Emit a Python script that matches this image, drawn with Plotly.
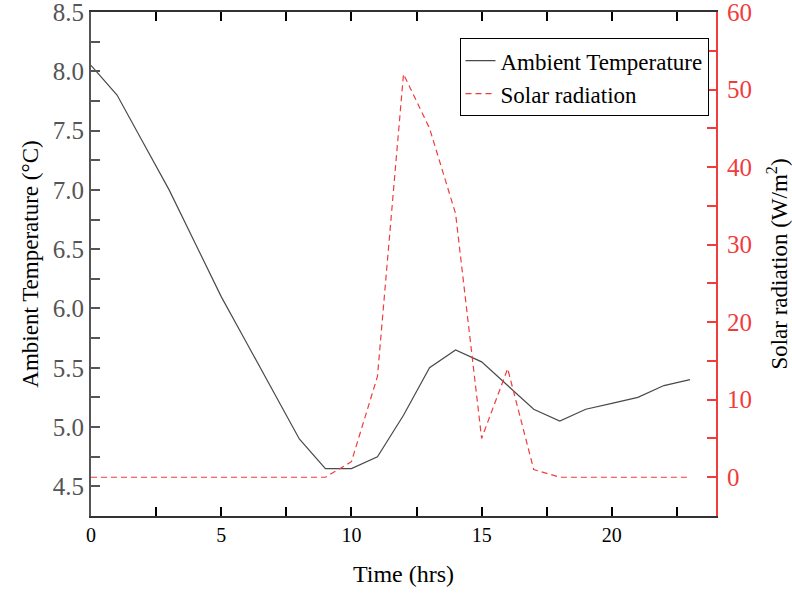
import plotly.graph_objects as go

hours = list(range(24))
ambient_temp = [8.05, 7.8, 7.4, 7.0, 6.55, 6.1, 5.7, 5.3, 4.9, 4.65, 4.65, 4.75,
                5.1, 5.5, 5.65, 5.55, 5.35, 5.15, 5.05, 5.15, 5.2, 5.25, 5.35, 5.4]
solar_rad = [0, 0, 0, 0, 0, 0, 0, 0, 0, 0, 2, 13,
             52, 45, 34, 5, 14, 1, 0, 0, 0, 0, 0, 0]
x_ticks = [0, 5, 10, 15, 20]
y1_ticks = [4.5, 5.0, 5.5, 6.0, 6.5, 7.0, 7.5, 8.0, 8.5]
y2_ticks = [0, 10, 20, 30, 40, 50, 60]

FONT = "Liberation Serif"
RED = "#f03c3c"
GRAY = "#555555"

fig = go.Figure()
fig.add_trace(go.Scatter(x=hours, y=ambient_temp, mode="lines", name="Ambient Temperature",
                         line=dict(color="#4a4a4a", width=1.2)))
fig.add_trace(go.Scatter(x=hours, y=solar_rad, mode="lines", name="Solar radiation",
                         line=dict(color=RED, width=1.2, dash="6px,4px"), yaxis="y2"))

fig.update_layout(
    width=792, height=594,
    margin=dict(l=91, r=76, t=12, b=78, autoexpand=False),
    paper_bgcolor="white", plot_bgcolor="white",
    font=dict(family=FONT, color="black"),
    showlegend=True,
    legend=dict(x=0.988, y=0.948, xanchor="right", yanchor="top",
                bgcolor="white", bordercolor="black", borderwidth=1,
                font=dict(family=FONT, size=23, color="black"),
                tracegroupgap=0),
    xaxis=dict(range=[0, 24], tickvals=x_ticks, ticktext=[str(v) for v in x_ticks],
               automargin=False, ticklabeloverflow="allow",
               showgrid=False, zeroline=False,
               showline=True, linecolor="#333333", linewidth=2, mirror="allticks",
               ticks="inside", ticklen=9, tickwidth=2, tickcolor="black",
               minor=dict(ticks="inside", ticklen=5, tickwidth=2, dtick=2.5, tick0=0, tickcolor="black"),
               tickfont=dict(family=FONT, size=20, color="black"),
               title=dict(text="Time (hrs)", font=dict(family=FONT, size=24, color="black"), standoff=20)),
    yaxis=dict(range=[4.25, 8.5], tickvals=y1_ticks, ticktext=[f"{v:.1f}" for v in y1_ticks],
               automargin=False, ticklabeloverflow="allow",
               showgrid=False, zeroline=False,
               showline=True, linecolor=GRAY, linewidth=2,
               ticks="inside", ticklen=9, tickwidth=2, tickcolor=GRAY,
               minor=dict(ticks="inside", ticklen=9, tickwidth=2, dtick=0.25, tick0=4.25, tickcolor=GRAY),
               tickfont=dict(family=FONT, size=25, color=GRAY),
               title=dict(text="Ambient Temperature (°C)", font=dict(family=FONT, size=23, color="black"), standoff=8)),
    yaxis2=dict(range=[-5, 60], tickvals=y2_ticks, ticktext=[str(v) for v in y2_ticks],
                overlaying="y", side="right", anchor="x",
                automargin=False, ticklabeloverflow="allow", ticklabelstandoff=4,
                showgrid=False, zeroline=False,
                showline=True, linecolor=RED, linewidth=2,
                ticks="inside", ticklen=9, tickwidth=2, tickcolor=RED,
                minor=dict(ticks="inside", ticklen=9, tickwidth=2, dtick=5, tick0=-5, tickcolor=RED),
                tickfont=dict(family=FONT, size=25, color=RED),
                title=dict(text="Solar radiation (W/m<sup>2</sup>)", font=dict(family=FONT, size=23, color="black"), standoff=20)),
)

fig.write_html("out.html", config={"displayModeBar": False},
               post_script="document.body.style.margin='0px';")
